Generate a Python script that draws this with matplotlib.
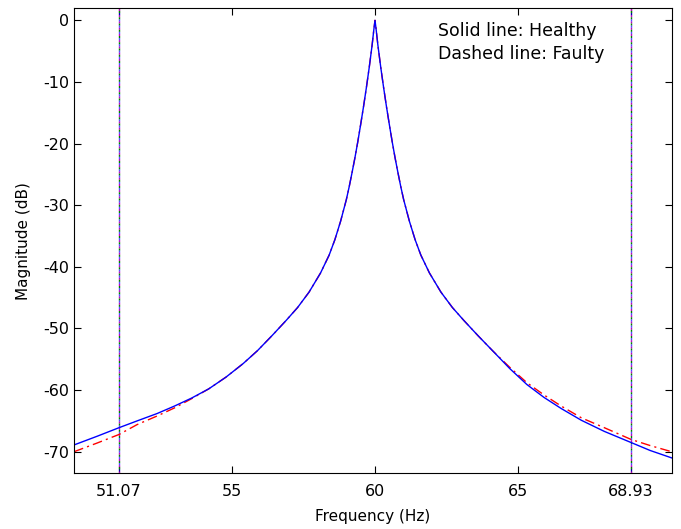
import matplotlib
matplotlib.use("Agg")
import matplotlib.pyplot as plt

# values
freq_healthy = [49.5, 50.3, 51.07, 51.7, 52.4, 53.0, 53.6, 54.2, 54.8, 55.4,
                55.9, 56.4, 56.9, 57.3, 57.7, 58.1, 58.4, 58.6, 58.8, 59.0,
                59.1, 59.2, 59.3, 59.4, 59.5, 59.6, 59.7, 59.8, 59.9, 59.96,
                60.0, 60.04, 60.1, 60.2, 60.3, 60.4, 60.5, 60.6, 60.7, 60.8,
                60.9, 61.0, 61.2, 61.4, 61.6, 61.9, 62.3, 62.7, 63.1, 63.6,
                64.1, 64.7, 65.3, 65.9, 66.5, 67.2, 68.0, 68.93, 69.6, 70.35]
mag_healthy = [-68.9, -67.5, -66.1, -65.0, -63.8, -62.6, -61.3, -59.8, -57.9, -55.7,
               -53.6, -51.2, -48.7, -46.6, -44.1, -41.0, -38.1, -35.6, -32.6, -29.1,
               -27.0, -24.7, -22.3, -19.7, -16.9, -14.0, -10.9, -7.6, -4.0, -1.5,
               0.0, -1.5, -4.0, -7.6, -10.9, -14.0, -16.9, -19.7, -22.3, -24.7,
               -27.0, -29.1, -32.6, -35.6, -38.1, -41.0, -44.1, -46.6, -48.7, -51.2,
               -53.6, -56.5, -59.1, -61.2, -63.0, -64.9, -66.7, -68.5, -69.8, -71.0]

freq_faulty = [49.5, 50.3, 51.07, 51.7, 52.4, 53.0, 53.6, 54.2, 54.8, 55.4,
               55.9, 56.4, 56.9, 57.3, 57.7, 58.1, 58.4, 58.6, 58.8, 59.0,
               59.1, 59.2, 59.3, 59.4, 59.5, 59.6, 59.7, 59.8, 59.9, 59.96,
               60.0, 60.04, 60.1, 60.2, 60.3, 60.4, 60.5, 60.6, 60.7, 60.8,
               60.9, 61.0, 61.2, 61.4, 61.6, 61.9, 62.3, 62.7, 63.1, 63.6,
               64.1, 64.7, 65.3, 65.9, 66.5, 67.2, 68.0, 68.93, 69.6, 70.35]
mag_faulty = [-70.0, -68.6, -67.2, -65.6, -64.2, -62.9, -61.4, -59.8, -57.9, -55.7,
              -53.6, -51.2, -48.7, -46.6, -44.1, -41.0, -38.1, -35.6, -32.6, -29.1,
              -27.0, -24.7, -22.3, -19.7, -16.9, -14.0, -10.9, -7.6, -4.0, -1.5,
              0.0, -1.5, -4.0, -7.6, -10.9, -14.0, -16.9, -19.7, -22.3, -24.7,
              -27.0, -29.1, -32.6, -35.6, -38.1, -41.0, -44.1, -46.6, -48.7, -51.2,
              -53.6, -56.3, -58.8, -60.8, -62.6, -64.5, -66.1, -68.0, -69.0, -70.0]

band_edges = [51.07, 68.93]
xticks = [51.07, 55, 60, 65, 68.93]
xtick_labels = ["51.07", "55", "60", "65", "68.93"]
yticks = [0, -10, -20, -30, -40, -50, -60, -70]

plt.rcParams['font.family'] = ['DejaVu Sans']
plt.rcParams['axes.unicode_minus'] = False

fig = plt.figure(figsize=(6.81, 5.29), dpi=100)
ax = fig.add_axes([0.1087, 0.1053, 0.8776, 0.8796])

# band edge markers: overlapping dotted lines in several colours
for x in band_edges:
    ax.axvline(x, color="m", lw=1, linestyle=(0, (1.5, 3)))
    ax.axvline(x, color="g", lw=1, linestyle=(1.5, (1.5, 3)))
    ax.axvline(x, color="b", lw=1, linestyle=(3, (1.5, 3)), alpha=0.7)

ax.plot(freq_faulty, mag_faulty, color="r", lw=1, linestyle=(0, (7, 3, 1.5, 3)))
ax.plot(freq_healthy, mag_healthy, color="b", lw=1)

ax.set_xlim(49.5, 70.35)
ax.set_ylim(-73.5, 2)
ax.set_xticks(xticks)
ax.set_xticklabels(xtick_labels)
ax.set_yticks(yticks)
ax.tick_params(axis="both", direction="in", length=5, top=True, right=True, labelsize=11.5)
ax.tick_params(axis="x", pad=8)
ax.tick_params(axis="y", pad=3.5)

ax.set_xlabel("Frequency (Hz)", fontsize=11, labelpad=7)
ax.set_ylabel("Magnitude (dB)", fontsize=11, labelpad=9)

ax.text(62.2, -1.8, "Solid line: Healthy", fontsize=12.5, va="center")
ax.text(62.2, -5.4, "Dashed line: Faulty", fontsize=12.5, va="center")

fig.savefig("out.png", dpi=100)
